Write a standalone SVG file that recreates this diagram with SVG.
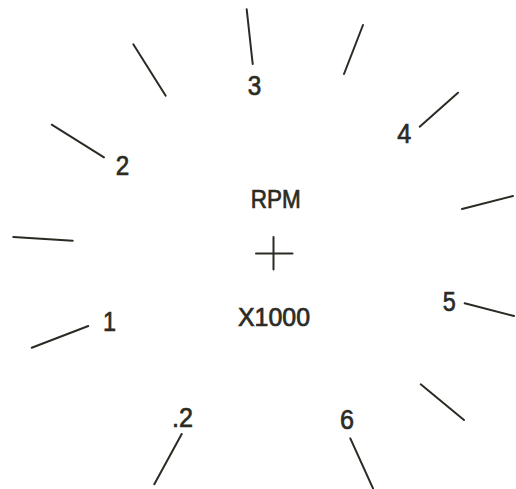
<svg xmlns="http://www.w3.org/2000/svg" width="516" height="489" viewBox="0 0 516 489">
<style>
.t{stroke:#2b2b24;stroke-width:2;stroke-linecap:round;fill:none}
text{font-family:"Liberation Sans",Arial,sans-serif;fill:#2b2b24;stroke:#2b2b24;stroke-width:0.7;text-anchor:middle}
.d{font-size:28px}
.w{font-size:25px}
</style>
<rect width="516" height="489" fill="#fff"/>
<g id="ticks">
<line class="t" x1="13.3" y1="237" x2="72.7" y2="240.7"/>
<line class="t" x1="51.7" y1="124.7" x2="104" y2="157.3"/>
<line class="t" x1="133.3" y1="44.3" x2="165.7" y2="95.7"/>
<line class="t" x1="246.7" y1="9.3" x2="252.7" y2="64"/>
<line class="t" x1="363" y1="25" x2="344" y2="74"/>
<line class="t" x1="458" y1="92.7" x2="419.7" y2="126.7"/>
<line class="t" x1="513" y1="196" x2="462" y2="209"/>
<line class="t" x1="464.7" y1="303.3" x2="514" y2="316"/>
<line class="t" x1="420.7" y1="384.3" x2="464" y2="420"/>
<line class="t" x1="350.3" y1="438.3" x2="373" y2="488.3"/>
<line class="t" x1="181.7" y1="434" x2="154.3" y2="484.3"/>
<line class="t" x1="88.3" y1="326" x2="31.7" y2="347.7"/>
</g>
<g id="center">
<line class="t" x1="256" y1="253.5" x2="292.5" y2="253.5"/>
<line class="t" x1="273.5" y1="237" x2="273.5" y2="269.5"/>
</g>
<g id="labels">
<text class="d" x="109.5" y="331" textLength="13" lengthAdjust="spacingAndGlyphs">1</text>
<text class="d" x="122.5" y="175" textLength="13.5" lengthAdjust="spacingAndGlyphs">2</text>
<text class="d" x="254.5" y="95" textLength="13.5" lengthAdjust="spacingAndGlyphs">3</text>
<text class="d" x="404.3" y="143" textLength="14" lengthAdjust="spacingAndGlyphs">4</text>
<text class="d" x="449.2" y="310.7" textLength="13" lengthAdjust="spacingAndGlyphs">5</text>
<text class="d" x="347" y="429" textLength="14" lengthAdjust="spacingAndGlyphs">6</text>
<text class="d" x="182.5" y="427" textLength="21" lengthAdjust="spacingAndGlyphs">.2</text>
<text class="w" x="275.7" y="208" textLength="50" lengthAdjust="spacingAndGlyphs">RPM</text>
<text class="w" x="274" y="326" textLength="72" lengthAdjust="spacingAndGlyphs">X1000</text>
</g>
</svg>
